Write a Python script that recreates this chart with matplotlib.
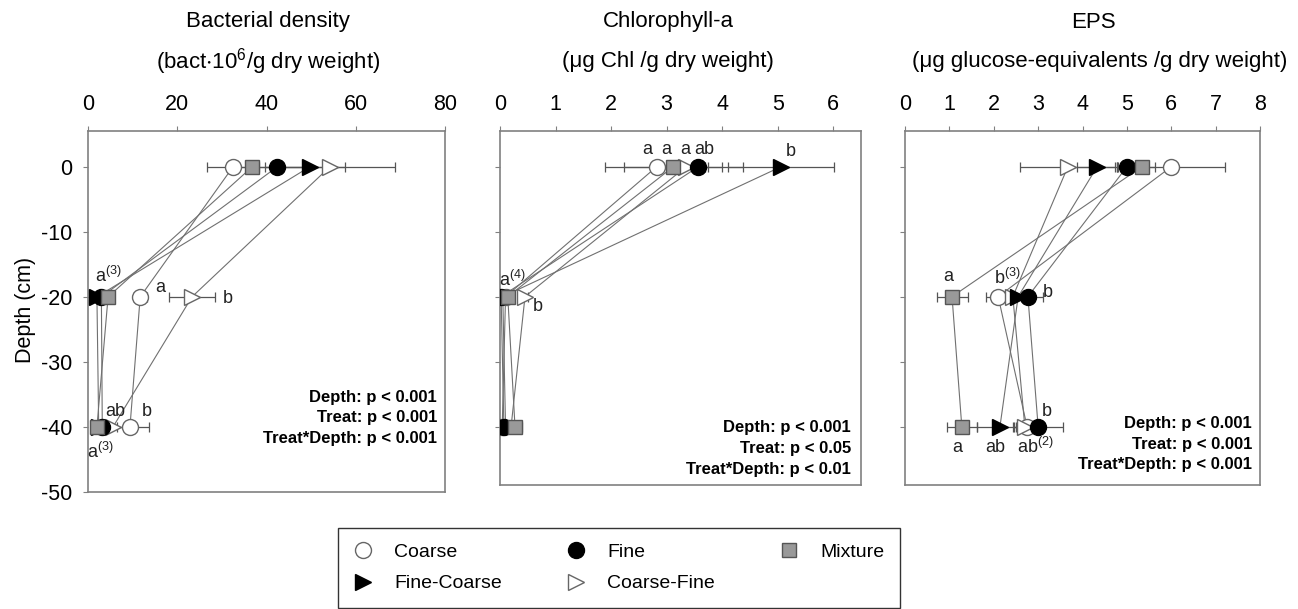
import numpy as np
import matplotlib.pyplot as plt
from matplotlib.lines import Line2D

plt.rcParams['font.family'] = ['Liberation Sans', 'DejaVu Sans']
plt.rcParams['mathtext.fontset'] = 'custom'
plt.rcParams['mathtext.rm'] = 'Liberation Sans'
plt.rcParams['mathtext.it'] = 'Liberation Sans'
plt.rcParams['mathtext.default'] = 'regular'
plt.rcParams['axes.unicode_minus'] = False

depth = [0, -20, -40]
treatments = ['Coarse', 'Coarse-Fine', 'Fine', 'Fine-Coarse', 'Mixture']

# values per treatment (same order as treatments), at depth 0, -20, -40
bact_mean = [[32.5, 11.7, 9.4], [54.2, 23.3, 5.6], [42.4, 3.0, 3.2], [49.7, 2.0, 2.4], [36.8, 4.5, 2.0]]
bact_err = [[5.8, 1.5, 4.3], [14.6, 5.2, 1.0], [6.0, 0.5, 0.5], [8.0, 0.5, 0.5], [5.0, 1.0, 0.8]]

chl_mean = [[2.82, 0.10, 0.04], [3.35, 0.45, 0.20], [3.57, 0.02, 0.07], [5.06, 0.05, 0.10], [3.12, 0.14, 0.27]]
chl_err = [[0.93, 0.04, 0.04], [0.35, 0.05, 0.05], [0.80, 0.03, 0.04], [0.95, 0.03, 0.05], [0.88, 0.04, 0.13]]

eps_mean = [[6.00, 2.10, 2.75], [3.67, 2.43, 2.70], [5.00, 2.77, 3.00], [4.33, 2.55, 2.14], [5.34, 1.06, 1.28]]
eps_err = [[1.20, 0.28, 0.30], [1.07, 0.20, 0.20], [0.22, 0.33, 0.56], [0.45, 0.20, 0.52], [0.30, 0.35, 0.34]]

# letters of the post-hoc tests: (x, depth, text)
bact_letters = [(4.5, -16.8, 'a$^{(3)}$'), (16.1, -18.6, 'a'), (31.4, -20.2, 'b'),
                (6.0, -37.7, 'ab'), (13.2, -37.7, 'b'), (2.8, -43.9, 'a$^{(3)}$')]
chl_letters = [(2.66, 2.6, 'a'), (3.0, 2.6, 'a'), (3.34, 2.6, 'a'), (3.67, 2.6, 'ab'),
               (5.24, 2.3, 'b'), (0.22, -17.4, 'a$^{(4)}$'), (0.68, -21.5, 'b')]
eps_letters = [(0.97, -16.9, 'a'), (2.3, -17.1, 'b$^{(3)}$'), (3.22, -19.4, 'b'),
               (3.2, -37.7, 'b'), (1.17, -43.3, 'a'), (2.03, -43.2, 'ab'), (2.95, -43.2, 'ab$^{(2)}$')]

bact_stats = ['Depth: p < 0.001', 'Treat: p < 0.001', 'Treat*Depth: p < 0.001']
chl_stats = ['Depth: p < 0.001', 'Treat: p < 0.05', 'Treat*Depth: p < 0.01']
eps_stats = ['Depth: p < 0.001', 'Treat: p < 0.001', 'Treat*Depth: p < 0.001']

styles = {
    'Coarse': dict(marker='o', mfc='white', mec='#666666', ms=11.5),
    'Fine': dict(marker='o', mfc='black', mec='black', ms=11.5),
    'Mixture': dict(marker='s', mfc='#999999', mec='#555555', ms=10.5),
    'Fine-Coarse': dict(marker='>', mfc='black', mec='black', ms=11.5),
    'Coarse-Fine': dict(marker='>', mfc='white', mec='#666666', ms=11.5),
}

fig = plt.figure(figsize=(12.98, 6.09), dpi=100)
W, H = 1298., 609.

def panel(rect, mean, err, xlim, xticks, ylim, letters, stats, stat_pos, ylabels):
    ax = fig.add_axes(rect)
    for i, t in enumerate(treatments):
        ax.plot(mean[i], depth, '-', color='#707070', lw=0.8, zorder=1)
    for i, t in enumerate(treatments):
        ax.errorbar(mean[i], depth, xerr=err[i], fmt='none', ecolor='#555555',
                    elinewidth=0.9, capsize=3.5, capthick=0.9, zorder=2)
    for i, t in enumerate(treatments):
        ax.plot(mean[i], depth, ls='none', mew=1, zorder=3 + i, **styles[t])
    for x, y, s in letters:
        ax.text(x, y, s, fontsize=13, ha='center', va='center', color='#222222', zorder=10)
    for k, s in enumerate(stats):
        ax.text(stat_pos[0], stat_pos[1] - k * 3.2, s, fontsize=12, fontweight='bold',
                ha='right', va='center')
    ax.set_xlim(xlim)
    ax.set_ylim(ylim)
    ax.set_xticks(xticks)
    ax.set_yticks([0, -10, -20, -30, -40, -50] if ylabels else [0, -10, -20, -30, -40])
    ax.xaxis.tick_top()
    ax.tick_params(axis='both', direction='out', length=3.5, color='#808080', labelsize=15.5, pad=8)
    if not ylabels:
        ax.set_yticklabels([])
    for sp in ax.spines.values():
        sp.set_color('#808080')
        sp.set_linewidth(1.2)
    return ax

ax1 = panel([88 / W, 1 - 492 / H, 357 / W, 361 / H], bact_mean, bact_err, (0, 80),
            [0, 20, 40, 60, 80], (-50, 5.5), bact_letters, bact_stats, (78.2, -35.4), True)
ax2 = panel([500 / W, 1 - 485 / H, 361 / W, 354 / H], chl_mean, chl_err, (0, 6.5),
            [0, 1, 2, 3, 4, 5, 6], (-49, 5.5), chl_letters, chl_stats, (6.32, -40.2), False)
ax3 = panel([905 / W, 1 - 485 / H, 355 / W, 354 / H], eps_mean, eps_err, (0, 8),
            range(9), (-49, 5.5), eps_letters, eps_stats, (7.82, -39.5), False)

fig.text(25 / W, 1 - 310 / H, 'Depth (cm)', rotation=90, fontsize=15.5, ha='center', va='center')

fig.text(268 / W, 1 - 22 / H, 'Bacterial density', fontsize=16, ha='center', va='center')
fig.text(268 / W, 1 - 62 / H, '(bact$\\cdot$10$^{6}$/g dry weight)', fontsize=16, ha='center', va='center')
fig.text(668 / W, 1 - 22 / H, 'Chlorophyll-a', fontsize=16, ha='center', va='center')
fig.text(668 / W, 1 - 62 / H, '(\u03bcg Chl /g dry weight)', fontsize=16, ha='center', va='center')
fig.text(1093 / W, 1 - 22 / H, 'EPS', fontsize=16, ha='center', va='center')
fig.text(1100 / W, 1 - 62 / H, '(\u03bcg glucose-equivalents /g dry weight)', fontsize=16, ha='center', va='center')

legend_order = ['Coarse', 'Fine-Coarse', 'Fine', 'Coarse-Fine', 'Mixture']
handles = [Line2D([], [], ls='none', mew=1, **styles[t]) for t in legend_order]
leg = fig.legend(handles, legend_order, loc='upper left', bbox_to_anchor=(338 / W, 1 - 528 / H),
                 ncol=3, fontsize=14, frameon=True, fancybox=False, edgecolor='black',
                 handlelength=1.0, handletextpad=1.1, columnspacing=3.3, borderpad=0.8,
                 labelspacing=0.7, borderaxespad=0)
leg.get_frame().set_linewidth(1.0)

fig.savefig('out.png', dpi=100)
